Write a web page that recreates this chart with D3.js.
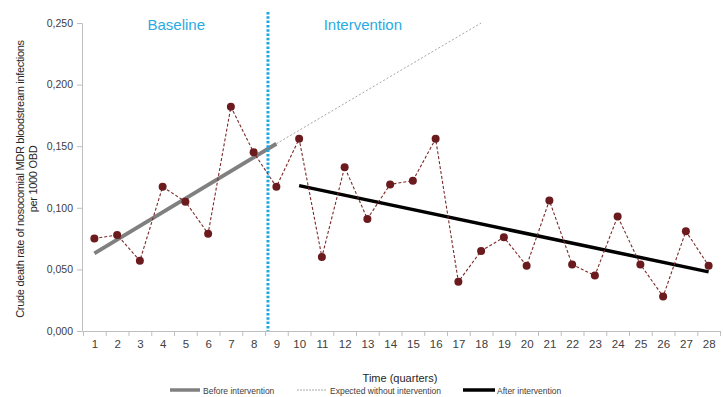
<!DOCTYPE html>
<html>
<head>
<meta charset="utf-8">
<script src="https://cdn.jsdelivr.net/npm/d3@7"></script>
<style>
  body { margin: 0; background: #fff; }
  svg { display: block; font-family: "Liberation Sans", Arial, sans-serif; }
</style>
</head>
<body>
<svg id="chart" width="723" height="397"></svg>
<script>
"use strict"

// quarters and observed crude death rate
const quarters = d3.range(1, 29);
const rates = [
  0.075, 0.078, 0.057, 0.117, 0.105, 0.079, 0.182, 0.145, 0.117, 0.156,
  0.060, 0.133, 0.091, 0.119, 0.122, 0.156, 0.040, 0.065, 0.076, 0.053,
  0.106, 0.054, 0.045, 0.093, 0.054, 0.028, 0.081, 0.053
];
const yTicks = [0, 0.05, 0.10, 0.15, 0.20, 0.25];

// trend segments [quarter, rate]
const beforeTrend = [[1, 0.063], [9, 0.152]];
const expectedTrend = [[9, 0.152], [18, 0.250]];
const afterTrend = [[10, 0.118], [28, 0.048]];
const interventionAt = 8.63;

const phaseLabels = [
  { text: "Baseline", q: 4.6 },
  { text: "Intervention", q: 12.8 }
];
const legendItems = [
  { label: "Before intervention", kind: "before" },
  { label: "Expected without intervention", kind: "expected" },
  { label: "After intervention", kind: "after" }
];

const svg = d3.select("#chart");
const plotLeft = 83, plotRight = 720, plotTop = 23, plotBottom = 331;

const x = d3.scaleLinear().domain([0.5, 28.5]).range([plotLeft, plotRight]);
const y = d3.scaleLinear().domain([0, 0.25]).range([plotBottom, plotTop]);

const axisColor = "#bfbfbf";
const labelColor = "#404040";

// y axis
const yAxis = svg.append("g")
  .attr("transform", `translate(${plotLeft - 1},0)`)
  .call(d3.axisLeft(y).tickValues(yTicks).tickSize(5).tickPadding(4)
    .tickFormat(d => d3.format(".3f")(d).replace(".", ",")));
yAxis.select(".domain").attr("stroke", axisColor);
yAxis.selectAll(".tick line").attr("stroke", axisColor);
yAxis.selectAll(".tick text").attr("fill", labelColor).attr("font-size", 10.5);

// x axis: boundary ticks
const xAxis = svg.append("g")
  .attr("transform", `translate(0,${plotBottom})`)
  .call(d3.axisBottom(x).tickValues(d3.range(0.5, 29, 1)).tickSize(5).tickFormat(""));
xAxis.select(".domain").attr("stroke", axisColor);
xAxis.selectAll(".tick line").attr("stroke", axisColor);

// x labels at quarter centres
const xLabels = svg.append("g")
  .attr("transform", `translate(0,${plotBottom})`)
  .call(d3.axisBottom(x).tickValues(quarters).tickSize(0).tickPadding(9).tickFormat(d3.format("d")));
xLabels.select(".domain").remove();
xLabels.selectAll(".tick text").attr("fill", labelColor).attr("font-size", 11.5);

// axis titles
svg.append("text")
  .attr("x", 400).attr("y", 382)
  .attr("text-anchor", "middle")
  .attr("font-size", 11).attr("fill", "#262626")
  .text("Time (quarters)");

const yTitle = svg.append("text")
  .attr("transform", `translate(24,${(plotTop + plotBottom) / 2 + 2}) rotate(-90)`)
  .attr("text-anchor", "middle")
  .attr("font-size", 11).attr("fill", "#262626")
  .attr("letter-spacing", -0.3);
yTitle.append("tspan").attr("x", 0).attr("dy", 0)
  .text("Crude death rate of nosocomial MDR bloodstream infections");
yTitle.append("tspan").attr("x", 0).attr("dy", 13).text("per 1000 OBD");

const line = d3.line().x(d => x(d[0])).y(d => y(d[1]));

// expected trend
svg.append("path")
  .attr("d", line(expectedTrend))
  .attr("fill", "none").attr("stroke", "#a6a6a6")
  .attr("stroke-width", 1).attr("stroke-dasharray", "2,2");

// before trend
svg.append("path")
  .attr("d", line(beforeTrend))
  .attr("fill", "none").attr("stroke", "#808080")
  .attr("stroke-width", 4);

// after trend
svg.append("path")
  .attr("d", line(afterTrend))
  .attr("fill", "none").attr("stroke", "#000")
  .attr("stroke-width", 3.5);

// intervention marker
svg.append("line")
  .attr("x1", x(interventionAt)).attr("x2", x(interventionAt))
  .attr("y1", 12).attr("y2", plotBottom)
  .attr("stroke", "#1fa7e0").attr("stroke-width", 3)
  .attr("stroke-dasharray", "2.5,1.8");

svg.selectAll(".phase")
  .data(phaseLabels)
  .enter()
  .append("text")
    .attr("class", "phase")
    .attr("x", d => x(d.q)).attr("y", 30)
    .attr("text-anchor", "middle")
    .attr("font-size", 15).attr("fill", "#29abe2")
    .text(d => d.text);

// observed series
const points = quarters.map((q, i) => [q, rates[i]]);
svg.append("path")
  .attr("d", line(points))
  .attr("fill", "none").attr("stroke", "#7b2a2a")
  .attr("stroke-width", 1.1).attr("stroke-dasharray", "3,2");

svg.selectAll(".dot")
  .data(points)
  .enter()
  .append("circle")
    .attr("class", "dot")
    .attr("cx", d => x(d[0])).attr("cy", d => y(d[1]))
    .attr("r", 4).attr("fill", "#6b1a1e");

// legend
const legendX = [170, 297, 463];
const legend = svg.selectAll(".legend-item")
  .data(legendItems)
  .enter()
  .append("g")
    .attr("class", "legend-item")
    .attr("transform", (_, i) => `translate(${legendX[i]},390)`);

legend.append("line")
  .attr("x1", 0).attr("x2", d => d.kind === "after" ? 32 : 30)
  .attr("y1", 0).attr("y2", 0)
  .attr("stroke", d => d.kind === "before" ? "#808080" : d.kind === "after" ? "#000" : "#a6a6a6")
  .attr("stroke-width", d => d.kind === "expected" ? 1 : 3.5)
  .attr("stroke-dasharray", d => d.kind === "expected" ? "2,1" : null);

legend.append("text")
  .attr("x", d => d.kind === "after" ? 34 : 33).attr("y", 3.5)
  .attr("font-size", 8.5).attr("fill", labelColor)
  .text(d => d.label);
</script>
</body>
</html>
